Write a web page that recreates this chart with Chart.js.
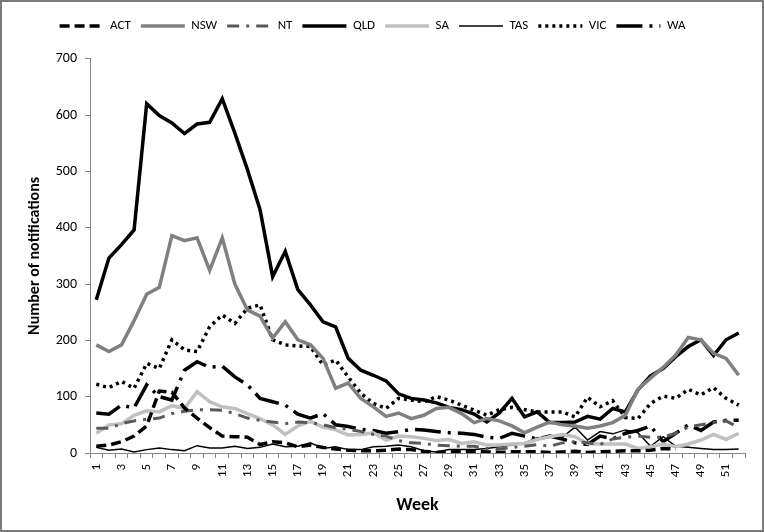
<!DOCTYPE html>
<html>
<head>
<meta charset="utf-8">
<script src="https://cdn.jsdelivr.net/npm/chart.js@4.4.0/dist/chart.umd.min.js"></script>
<style>
html, body { margin: 0; padding: 0; background: #fff; }
#wrap { width: 764px; height: 532px; }
</style>
</head>
<body>
<div id="wrap"><canvas id="notif-chart" width="764" height="532"></canvas></div>
<script>
// 周次
var weeks = ['1','2','3','4','5','6','7','8','9','10','11','12','13','14','15','16','17','18','19','20',
  '21','22','23','24','25','26','27','28','29','30','31','32','33','34','35','36','37','38','39','40',
  '41','42','43','44','45','46','47','48','49','50','51','52'];

var act = [12,14,20,30,48,110,108,80,62,45,30,29,28,15,20,18,11,14,10,7,
  5,4,4,5,7,6,3,1,2,2,3,2,1,2,2,2,1,2,3,1,
  2,3,4,4,5,8,7,null,null,null,null,null];
var nsw = [192,180,192,235,282,294,386,377,382,324,382,300,254,243,204,233,201,192,168,115,
  124,97,82,65,71,61,67,79,81,70,54,61,57,48,36,46,55,50,48,44,
  48,54,67,113,133,152,174,205,201,177,168,138];
var nt = [44,44,52,57,60,62,70,74,77,77,76,70,62,58,55,52,55,54,50,45,
  42,38,33,30,22,18,17,14,13,12,12,8,7,10,12,15,12,18,20,18,
  15,25,28,30,28,28,35,46,50,54,57,45];
var qld = [272,346,370,396,620,599,586,567,584,587,629,568,503,432,313,358,290,263,233,224,
  168,147,138,128,105,97,94,89,81,77,69,55,71,97,64,73,54,54,55,65,
  60,79,73,112,137,150,171,189,201,173,201,213];
var sa = [35,50,52,67,75,73,84,79,109,91,82,79,70,61,50,33,48,56,46,41,
  32,33,36,23,30,29,26,22,24,17,20,14,14,16,17,24,29,33,29,17,
  16,16,16,8,11,16,11,16,23,33,24,35];
var tas = [10,5,7,2,6,9,6,4,13,9,9,12,8,10,16,11,12,18,8,11,
  6,6,11,12,14,11,4,2,6,6,6,8,11,14,18,27,28,28,46,23,
  38,34,41,36,12,29,12,10,8,6,6,7];
var vic = [122,116,127,115,159,150,201,183,180,224,245,230,257,263,201,192,190,189,156,165,
  135,106,88,79,97,94,91,100,94,85,76,67,77,81,77,73,73,73,64,99,
  82,93,63,61,88,101,97,113,103,116,97,85];
var wa = [71,69,85,80,121,100,94,147,162,152,154,135,121,97,91,85,69,62,70,50,
  47,42,40,35,38,42,41,38,36,35,33,28,26,35,30,25,30,25,18,15,
  30,25,35,40,48,20,35,50,40,55,58,58];

var yTicks = [0,100,200,300,400,500,600,700];

var fontFam = "Carlito, Lato, 'Liberation Sans', sans-serif";
var axisGrey = '#868686';

function line(label, data, color, width, dash) {
    return {
        label: label,
        data: data,
        borderColor: color,
        backgroundColor: color,
        borderWidth: width,
        borderDash: dash || [],
        borderCapStyle: 'butt',
        pointRadius: 0,
        pointHoverRadius: 0,
        tension: 0,
        fill: false,
        spanGaps: false
    };
}

// 外框
var frame = {
    id: 'frame',
    afterDraw: function(chart) {
        var c = chart.ctx;
        c.save();
        c.strokeStyle = '#7a7a7a';
        c.lineWidth = 2;
        c.strokeRect(1, 1, chart.width - 2, chart.height - 2);
        c.restore();
    }
};

var ctx = document.getElementById('notif-chart').getContext('2d');
new Chart(ctx, {
    type: 'line',
    data: {
        labels: weeks,
        datasets: [
            line('ACT', act, '#000000', 3.5, [10, 5]),
            line('NSW', nsw, '#808080', 3.5),
            line('NT', nt, '#595959', 3, [12, 7, 3, 7]),
            line('QLD', qld, '#000000', 3.5),
            line('SA', sa, '#c0c0c0', 3.5),
            line('TAS', tas, '#000000', 1.5),
            line('VIC', vic, '#000000', 3.5, [3, 4]),
            line('WA', wa, '#000000', 3.5, [26, 7, 3, 7])
        ]
    },
    plugins: [frame],
    options: {
        responsive: false,
        animation: false,
        devicePixelRatio: 1,
        layout: { padding: { top: 9.5, right: 19, bottom: 0, left: 0 } },
        plugins: {
            legend: {
                position: 'top',
                labels: {
                    usePointStyle: true,
                    pointStyle: 'line',
                    pointStyleWidth: 44,
                    padding: 10,
                    color: '#000',
                    font: { family: fontFam, size: 13 },
                    generateLabels: function(chart) {
                        var items = Chart.defaults.plugins.legend.labels.generateLabels(chart);
                        items.forEach(function(it) {
                            var ds = chart.data.datasets[it.datasetIndex];
                            it.lineDash = ds.borderDash;
                            it.lineWidth = ds.borderWidth;
                            it.strokeStyle = ds.borderColor;
                            it.lineCap = 'butt';
                            it.pointStyle = 'line';
                        });
                        return items;
                    }
                }
            },
            title: {
                display: true,
                text: ' ',
                weight: 500,
                font: { size: 1 },
                padding: { top: 15, bottom: 0 }
            },
            tooltip: { enabled: false }
        },
        scales: {
            x: {
                offset: true,
                grid: { offset: true, drawOnChartArea: false, tickLength: 5, color: axisGrey },
                border: { color: axisGrey, width: 1 },
                ticks: {
                    autoSkip: false,
                    minRotation: 90,
                    maxRotation: 90,
                    padding: 6,
                    color: '#000',
                    font: { family: fontFam, size: 13 },
                    callback: function(v, i) { return i % 2 === 0 ? weeks[i] : ''; }
                },
                title: {
                    display: true,
                    text: 'Week',
                    color: '#000',
                    font: { family: fontFam, size: 18, weight: 'bold' },
                    padding: { top: 4, bottom: 16 }
                },
                afterFit: function(s) { s.height = 79; }
            },
            y: {
                min: 0,
                max: 700,
                afterBuildTicks: function(s) { s.ticks = yTicks.map(function(v) { return { value: v }; }); },
                grid: { drawOnChartArea: false, tickLength: 5, color: axisGrey },
                border: { color: axisGrey, width: 1 },
                ticks: {
                    padding: 8,
                    color: '#000',
                    font: { family: fontFam, size: 14 }
                },
                title: {
                    display: true,
                    text: 'Number of notifications',
                    color: '#000',
                    font: { family: fontFam, size: 16, weight: 'bold' },
                    padding: { top: 25, bottom: 0 }
                },
                afterFit: function(s) { s.width = 90; }
            }
        }
    }
});
</script>
</body>
</html>
